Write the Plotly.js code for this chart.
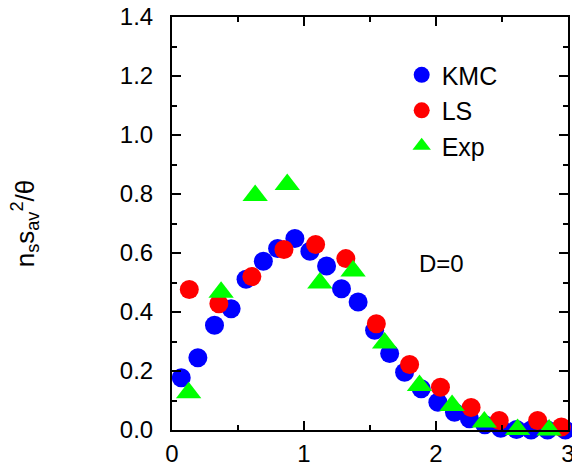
<!DOCTYPE html>
<html>
<head>
<meta charset="utf-8">
<script src="https://cdn.plot.ly/plotly-3.0.1.min.js"></script>
<style>
  html, body { margin: 0; padding: 0; background: #fff; }
  #chart { width: 572px; height: 467px; }
</style>
</head>
<body>
<div id="chart"></div>
<script>
// Kinetic Monte Carlo
const kmcX = [0.07, 0.196, 0.322, 0.448, 0.561, 0.692, 0.80, 0.931, 1.045, 1.171, 1.284, 1.410,
              1.535, 1.649, 1.762, 1.888, 2.014, 2.14, 2.253, 2.37, 2.49, 2.61, 2.72, 2.845, 2.98];
const kmcY = [0.177, 0.245, 0.355, 0.411, 0.511, 0.572, 0.615, 0.649, 0.606, 0.556, 0.479, 0.434,
              0.338, 0.259, 0.196, 0.14, 0.094, 0.06, 0.038, 0.018, 0.006, 0.002, 0.0, 0.0, 0.0];

// Lattice simulation (LS)
const lsX = [0.131, 0.355, 0.605, 0.848, 1.088, 1.317, 1.548, 1.80, 2.034, 2.266, 2.479, 2.77, 2.95];
const lsY = [0.476, 0.428, 0.52, 0.612, 0.629, 0.581, 0.36, 0.222, 0.145, 0.076, 0.032, 0.032, 0.01];

// Experiment
const expX = [0.126, 0.372, 0.63, 0.873, 1.12, 1.372, 1.611, 1.875, 2.122, 2.366, 2.618, 2.857];
const expY = [0.126, 0.467, 0.795, 0.832, 0.498, 0.539, 0.295, 0.151, 0.083, 0.027, 0.002, 0.0];

const xTicks = [0, 1, 2, 3];
const yTicks = [0.0, 0.2, 0.4, 0.6, 0.8, 1.0, 1.2, 1.4];
const yTickText = ['0.0', '0.2', '0.4', '0.6', '0.8', '1.0', '1.2', '1.4'];

const FONT = 'Liberation Sans, Arial, Helvetica, sans-serif';

function series(name, x, y, color, symbol, size) {
  return {
    type: 'scatter', mode: 'markers', name: name, x: x, y: y,
    cliponaxis: false, hoverinfo: 'x+y',
    marker: { color: color, size: size, symbol: symbol, line: { width: 0 } }
  };
}

const data = [
  series('KMC', kmcX, kmcY, '#0000ff', 'circle', 19),
  series('LS', lsX, lsY, '#ff0000', 'circle', 19),
  series('Exp', expX, expY, '#00ff00', 'triangle-up', 22)
];

const axisCommon = {
  ticks: 'inside', ticklen: 9, tickwidth: 2, tickcolor: '#000',
  showline: true, linewidth: 2, linecolor: '#000', mirror: 'ticks',
  showgrid: false, zeroline: false, ticklabeloverflow: 'allow',
  tickfont: { family: FONT, size: 24, color: '#000' }
};

const layout = {
  width: 572, height: 467,
  margin: { l: 172, r: 4, t: 17, b: 37 },
  paper_bgcolor: '#fff', plot_bgcolor: '#fff',
  font: { family: FONT, size: 24, color: '#000' },
  showlegend: true,
  legend: {
    x: 0.58, xanchor: 'left', y: 0.915, yanchor: 'top',
    bgcolor: 'rgba(0,0,0,0)', borderwidth: 0,
    font: { family: FONT, size: 25, color: '#000' }
  },
  xaxis: Object.assign({}, axisCommon, {
    range: [0, 3], tickmode: 'array', tickvals: xTicks, ticktext: xTicks.map(String),
    ticklabelstandoff: 1,
    minor: { dtick: 0.5, tick0: 0, ticks: 'inside', ticklen: 5, tickwidth: 2, tickcolor: '#000', showgrid: false }
  }),
  yaxis: Object.assign({}, axisCommon, {
    range: [0, 1.4], tickmode: 'array', tickvals: yTicks, ticktext: yTickText,
    ticklabelstandoff: 12,
    minor: { dtick: 0.1, tick0: 0, ticks: 'inside', ticklen: 5, tickwidth: 2, tickcolor: '#000', showgrid: false },
    title: { text: 'n<sub>s</sub>s<sub>av</sub><sup>2</sup>/θ', font: { family: FONT, size: 26, color: '#000' }, standoff: 78 }
  }),
  annotations: [{
    x: 2.045, y: 0.563, xref: 'x', yref: 'y', text: 'D=0', showarrow: false,
    font: { family: FONT, size: 24, color: '#000' }
  }]
};

Plotly.newPlot('chart', data, layout, { displayModeBar: false, staticPlot: true });
</script>
</body>
</html>
